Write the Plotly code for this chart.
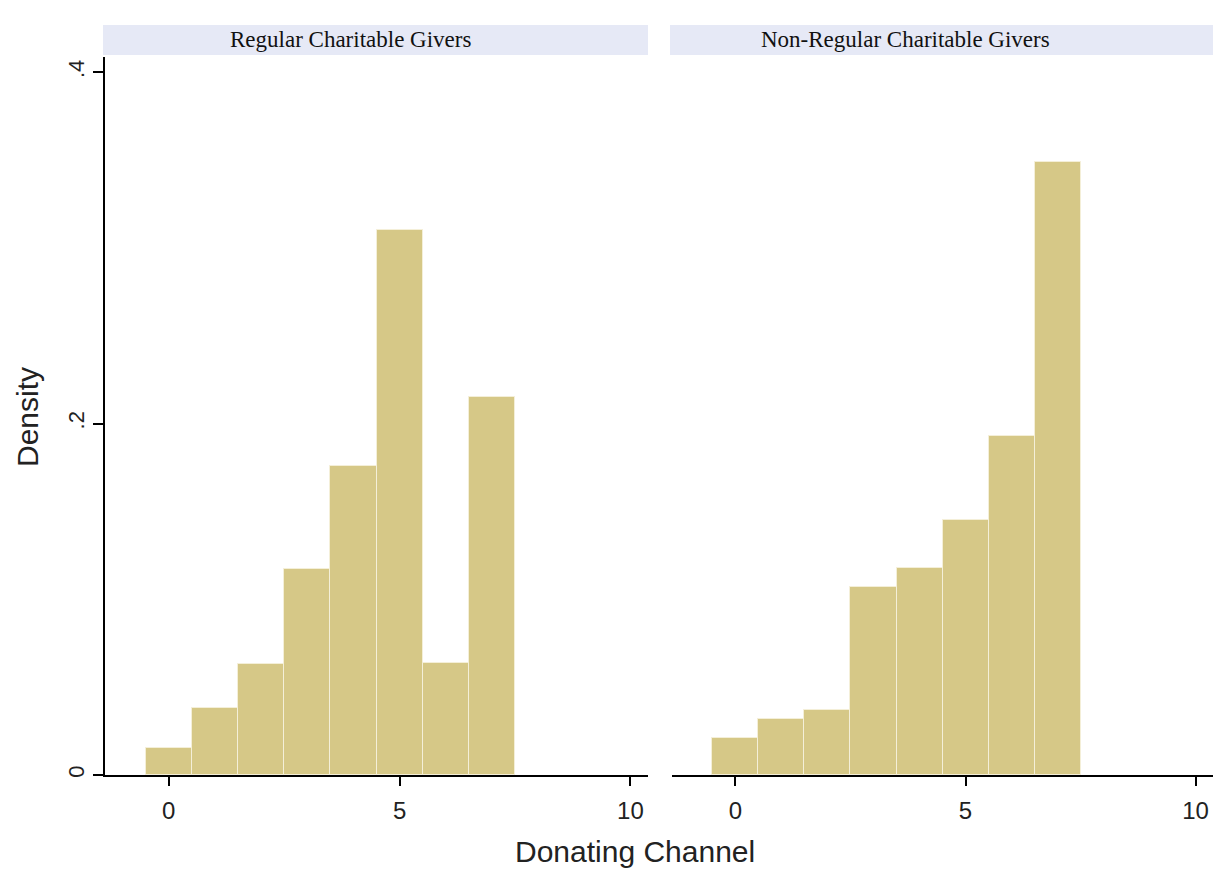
import plotly.graph_objects as go

channels = [0, 1, 2, 3, 4, 5, 6, 7]
regular = [0.0154, 0.038, 0.063, 0.117, 0.176, 0.310, 0.064, 0.215]
nonregular = [0.021, 0.032, 0.037, 0.107, 0.118, 0.145, 0.193, 0.349]
panel_titles = ["Regular Charitable Givers", "Non-Regular Charitable Givers"]
ytick_vals = [0, 0.2, 0.4]
ytick_text = ["0", ".2", ".4"]
xtick_vals = [0, 5, 10]

OFF = 8  # page body margin
W, H = 1215, 866
L, R, T, B = 97, 10, 49, 99
pw = W - L - R
ph = H - T - B
bar_color = "#D6C887"


def px_x(sx):
    return (sx - OFF - L) / pw


def px_y(sy):
    return (H - B - (sy - OFF)) / ph


fig = go.Figure()
fig.add_trace(go.Bar(x=channels, y=regular, width=1, xaxis="x", yaxis="y",
                     marker=dict(color=bar_color, line=dict(color="#F4EFD8", width=1)),
                     showlegend=False))
fig.add_trace(go.Bar(x=channels, y=nonregular, width=1, xaxis="x2", yaxis="y2",
                     marker=dict(color=bar_color, line=dict(color="#F4EFD8", width=1)),
                     showlegend=False))

d1 = [0, px_x(648)]
d2 = [px_x(672), 1]
xr = [-1.38, 10.38]
yr = [0, 0.4086]
xtickfont = dict(family="Arial", size=24, color="#222")
ytickfont = dict(family="Arial", size=22, color="#222")

common_x = dict(range=xr, tickvals=xtick_vals, ticks="outside", ticklen=9, tickwidth=1.5,
                tickcolor="black", showline=True, linecolor="black", linewidth=2,
                showgrid=False, zeroline=False, tickfont=xtickfont, ticklabelstandoff=4,
                fixedrange=True)
fig.update_layout(
    width=W, height=H,
    margin=dict(l=L, r=R, t=T, b=B),
    paper_bgcolor="white", plot_bgcolor="white",
    bargap=0,
    xaxis=dict(domain=d1, anchor="y", **common_x),
    xaxis2=dict(domain=d2, anchor="y2", **common_x),
    yaxis=dict(domain=[0, 1], range=yr, tickvals=ytick_vals, ticktext=ytick_text,
               ticks="outside", ticklen=10, tickwidth=1.5, tickcolor="black",
               tickangle=-90, showline=True, linecolor="black", linewidth=2,
               showgrid=False, zeroline=False, tickfont=ytickfont),
    yaxis2=dict(domain=[0, 1], range=yr, anchor="x2", showline=False, showticklabels=False,
                ticks="", showgrid=False, zeroline=False),
)

# panel header strips
strips = [(103, 648, 350), (670, 1213, 905)]
for (x0, x1, xc), title in zip(strips, panel_titles):
    fig.add_shape(type="rect", xref="paper", yref="paper",
                  x0=px_x(x0), x1=px_x(x1), y0=px_y(55), y1=px_y(25),
                  fillcolor="#E6E9F6", line=dict(width=0), layer="below")
    fig.add_annotation(text=title, xref="paper", yref="paper",
                       x=px_x(xc), y=px_y(40),
                       showarrow=False, xanchor="center", yanchor="middle",
                       font=dict(family="Liberation Serif", size=23, color="#111"))

fig.add_annotation(text="Donating Channel", xref="paper", yref="paper",
                   x=px_x(635), y=px_y(851),
                   showarrow=False, xanchor="center", yanchor="middle",
                   font=dict(family="Arial", size=30, color="#222"))
fig.add_annotation(text="Density", xref="paper", yref="paper",
                   x=px_x(27), y=px_y(417),
                   showarrow=False, xanchor="center", yanchor="middle", textangle=-90,
                   font=dict(family="Arial", size=30, color="#222"))

fig.write_html("out.html")
